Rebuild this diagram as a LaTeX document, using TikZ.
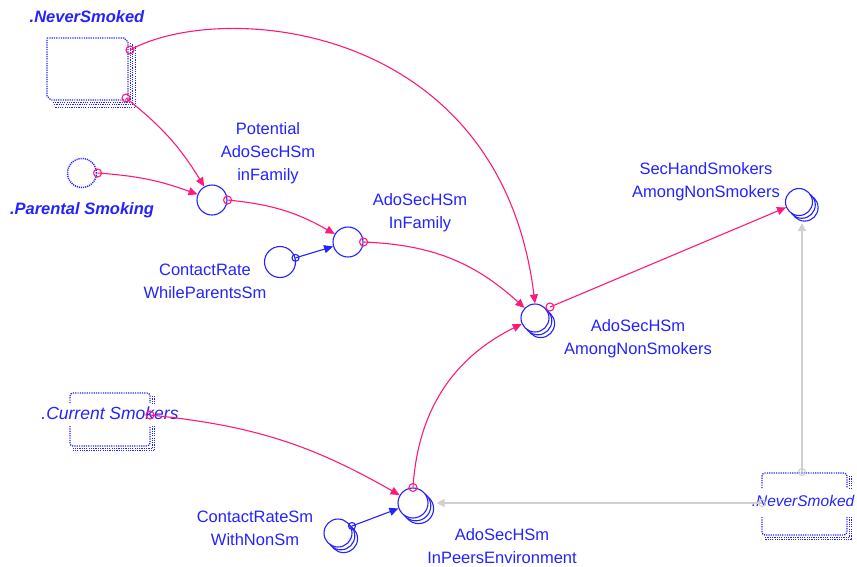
\documentclass[tikz,border=0pt]{standalone}
\usepackage{fontspec}
\setmainfont{Liberation Sans}
\usetikzlibrary{arrows.meta,shadows}
\definecolor{vblue}{RGB}{35,35,255}
\definecolor{vmag}{RGB}{255,25,125}
\definecolor{vgray}{RGB}{208,208,208}
\begin{document}
\begin{tikzpicture}[x=1pt,y=-1pt,
  aux/.style={circle, draw=vblue, line width=1.1pt, fill=white, inner sep=0pt, minimum size=30pt},
  stackaux/.style={aux, double copy shadow={shadow xshift=2.8pt, shadow yshift=-2.8pt, draw=vblue, fill=white, line width=1.1pt}},
  lbl/.style={text=vblue, align=center, font=\fontsize{16.5}{23}\selectfont, inner sep=0pt},
  stklbl/.style={text=vblue, inner sep=0pt, font=\bfseries\itshape\fontsize{16.5}{20}\selectfont},
  ghostlbl/.style={text=vblue, inner sep=0pt, font=\itshape\fontsize{17.5}{20}\selectfont},
  dotline/.style={draw=vblue, line width=1.3pt, dash pattern=on 1.2pt off 1.1pt},
  lnk/.style={draw=vmag, line width=1.1pt, -{Triangle[length=9pt,width=8pt]}},
  blnk/.style={draw=vblue, line width=1.1pt, -{Triangle[length=9pt,width=8pt]}},
  glnk/.style={draw=vgray, line width=1.4pt, -{Triangle[length=8pt,width=8pt]}},
  morig/.style={draw=vmag, line width=1.1pt},
  borig/.style={draw=vblue, line width=1.1pt},
  gorig/.style={draw=vgray, line width=1.2pt}]
\useasboundingbox (0,0) rectangle (857,566);

% ---- stock .NeverSmoked (top left)
\draw[dotline] (47,38) -- (124,38) -- (128,42) -- (128,100) -- (51,100) -- (47,96) -- cycle;
\foreach \d in {2.4,4.8,7.2}
  \draw[dotline] (128+\d,42+\d*0.5) -- (128+\d,100+\d) -- (51+\d*0.5,100+\d);
\node[stklbl] (nslbl) at (87,17) {.NeverSmoked};
\coordinate (nsA) at (130,50);
\coordinate (nsB) at (126,98);

% ---- ghost .Current Smokers
\draw[dotline, rounded corners=3pt] (70,403) -- (70,393) -- (150,393) -- (150,403);
\draw[dotline, rounded corners=3pt] (70,426) -- (70,446) -- (150,446) -- (150,426);
\foreach \d in {2.4,4.8}{
  \draw[dotline] (150+\d,396) -- (150+\d,403);
  \draw[dotline] (150+\d,426) -- (150+\d,446+\d) -- (73,446+\d);}
\node[ghostlbl] (cslbl) at (110,413) {.Current Smokers};
\coordinate (csO) at (150,415);

% ---- ghost .NeverSmoked (bottom right)
\draw[dotline, rounded corners=3pt] (762,488) -- (762,473) -- (847,473) -- (847,488);
\draw[dotline, rounded corners=3pt] (762,517) -- (762,535) -- (847,535) -- (847,517);
\foreach \d in {2.4,4.8}{
  \draw[dotline] (847+\d,476) -- (847+\d,488);
  \draw[dotline] (847+\d,517) -- (847+\d,535+\d) -- (765,535+\d);}
\node[ghostlbl, font=\itshape\fontsize{15.5}{20}\selectfont] (ns2lbl) at (803,501) {.NeverSmoked};
\coordinate (ns2L) at (762,503);
\coordinate (ns2T) at (802,472);

% ---- auxiliaries
\node[aux, draw=none] (ps) at (82,173) {};
\draw[vblue, line width=1.5pt, dash pattern=on 1.1pt off 1pt] (ps) circle (14.5pt);
\node[stklbl] (pslbl) at (82,210) {.Parental Smoking};

\node[aux] (pot) at (212,200) {};
\node[lbl] (potlbl) at (268,153) {Potential\\AdoSecHSm\\inFamily};

\node[aux, minimum size=31pt] (crwp) at (280,262) {};
\node[lbl] (crwplbl) at (205,281) {ContactRate\\WhileParentsSm};

\node[aux] (inf) at (348,242) {};
\node[lbl] (inflbl) at (420,213) {AdoSecHSm\\InFamily};

\node[stackaux, minimum size=28pt] (aans) at (535,318) {};
\node[lbl] (aanslbl) at (638,339) {AdoSecHSm\\AmongNonSmokers};

\node[stackaux, minimum size=27pt] (shs) at (799,202) {};
\node[lbl] (shslbl) at (706,182) {SecHandSmokers\\AmongNonSmokers};

\node[stackaux] (peer) at (413,503) {};
\node[lbl] (peerlbl) at (502,546) {AdoSecHSm\\InPeersEnvironment};

\node[stackaux, minimum size=28pt] (crsm) at (338,533) {};
\node[lbl] (crsmlbl) at (255,528) {ContactRateSm\\WithNonSm};

% ---- connectors
\draw[lnk] (nsA) .. controls (220,0) and (500,20) .. (aans.north);
\draw[morig] (nsA) circle (4pt);
\draw[lnk] (nsB) to[bend left=10] (pot);
\draw[morig] (nsB) circle (4pt);
\draw[lnk] (ps.east) to[bend left=8] (pot);
\draw[morig] (ps.east) circle (4pt);
\draw[lnk] (pot.east) to[bend left=12] (inf);
\draw[morig] (pot.east) circle (4pt);
\draw[blnk] (crwp.15) -- (inf);
\draw[borig] (crwp.15) circle (3.5pt);
\draw[lnk] (inf.east) to[bend left=20] (aans);
\draw[morig] (inf.east) circle (4pt);
\coordinate (aansO) at (550,307);
\draw[lnk] (aansO) -- (shs);
\draw[morig] (aansO) circle (4pt);
\draw[lnk] (csO) to[bend left=12] (peer);
\draw[morig] (csO) circle (4pt);
\draw[lnk] (peer.north) to[bend left=30] (aans);
\draw[morig] (peer.north) circle (4pt);
\coordinate (crsmO) at (352,526);
\draw[blnk] (crsmO) -- (peer);
\draw[borig] (crsmO) circle (3.5pt);
\draw[glnk] (ns2L) -- ([xshift=8pt]peer.east);
\draw[gorig] (ns2L) circle (3.5pt);
\draw[glnk] (ns2T) -- ([xshift=3pt,yshift=-7pt]shs.south);
\draw[gorig] (ns2T) circle (3.5pt);
\end{tikzpicture}
\end{document}
